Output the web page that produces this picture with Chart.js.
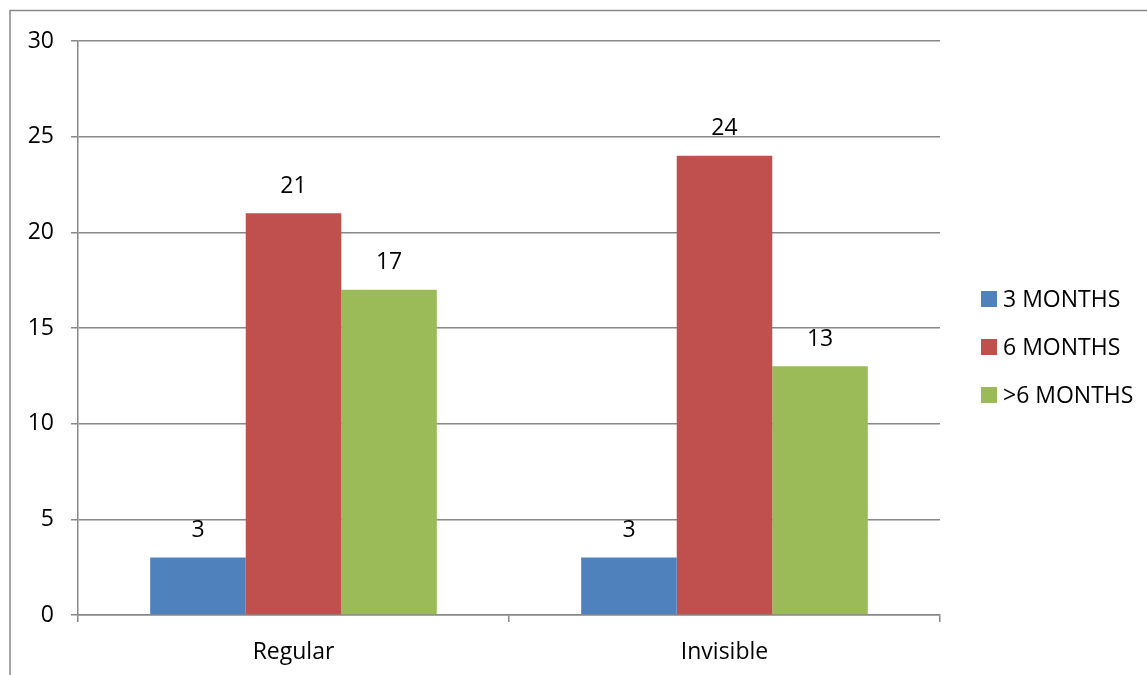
<!DOCTYPE html>
<html>
<head>
<meta charset="utf-8">
<script src="https://cdn.jsdelivr.net/npm/chart.js@4/dist/chart.umd.min.js"></script>
<style>
  html, body { margin: 0; padding: 0; background: #fff; }
  #wrap { width: 1147px; height: 675px; position: relative; }
</style>
</head>
<body>
<div id="wrap"><canvas id="c" width="1147" height="675"></canvas></div>
<script>
const categories = ['Regular', 'Invisible'];
const seriesNames = ['3 MONTHS', '6 MONTHS', '>6 MONTHS'];
const threeMonths = [3, 3];
const sixMonths = [21, 24];
const overSixMonths = [17, 13];
const seriesColors = ['#4F81BD', '#C0504D', '#9BBB59'];
const yTicks = [0, 5, 10, 15, 20, 25, 30];

const FONT = '"Open Sans", "Liberation Sans", sans-serif';
const FONT_SIZE = 23;
const GRID = '#888888';

// Outer frame of the chart object (continues past the right and bottom edges)
const framePlugin = {
  id: 'frame',
  beforeDraw(chart) {
    const ctx = chart.ctx;
    ctx.save();
    ctx.strokeStyle = GRID;
    ctx.lineWidth = 1.5;
    ctx.strokeRect(10, 10.5, 1200, 700);
    ctx.restore();
  }
};

// Value labels above each bar
const valueLabels = {
  id: 'valueLabels',
  afterDatasetsDraw(chart) {
    const ctx = chart.ctx;
    ctx.save();
    ctx.font = FONT_SIZE + 'px ' + FONT;
    ctx.fillStyle = '#000';
    ctx.textAlign = 'center';
    ctx.textBaseline = 'middle';
    chart.data.datasets.forEach((ds, i) => {
      chart.getDatasetMeta(i).data.forEach((bar, j) => {
        ctx.fillText(String(ds.data[j]), bar.x, bar.y - 27);
      });
    });
    ctx.restore();
  }
};

// Legend on the right side
const sideLegend = {
  id: 'sideLegend',
  afterDraw(chart) {
    const ctx = chart.ctx;
    ctx.save();
    ctx.font = FONT_SIZE + 'px ' + FONT;
    ctx.textAlign = 'left';
    ctx.textBaseline = 'middle';
    const startY = 299, step = 48, boxX = 981, box = 16;
    chart.data.datasets.forEach((ds, i) => {
      const cy = startY + i * step;
      ctx.fillStyle = ds.backgroundColor;
      ctx.fillRect(boxX, cy - box / 2, box, box);
      ctx.fillStyle = '#000';
      ctx.fillText(ds.label, boxX + 22, cy + 1);
    });
    ctx.restore();
  }
};

new Chart(document.getElementById('c'), {
  type: 'bar',
  data: {
    labels: categories,
    datasets: [
      { label: seriesNames[0], data: threeMonths, backgroundColor: seriesColors[0] },
      { label: seriesNames[1], data: sixMonths, backgroundColor: seriesColors[1] },
      { label: seriesNames[2], data: overSixMonths, backgroundColor: seriesColors[2] }
    ]
  },
  options: {
    responsive: false,
    animation: false,
    devicePixelRatio: 1,
    layout: { padding: { top: 41, left: 0, right: 207, bottom: 0 } },
    datasets: { bar: { categoryPercentage: 0.665, barPercentage: 1.0, borderWidth: 0 } },
    plugins: { legend: { display: false }, tooltip: { enabled: false } },
    scales: {
      x: {
        afterFit(s) { s.height = 60; },
        grid: {
          display: true, drawOnChartArea: false, drawTicks: true,
          tickLength: 7, color: GRID, lineWidth: 1.5, offset: true
        },
        border: { display: true, color: GRID, width: 1.5 },
        ticks: { color: '#000', font: { family: FONT, size: FONT_SIZE }, padding: 17 }
      },
      y: {
        min: 0, max: 30,
        afterFit(s) { s.width = 78; },
        afterBuildTicks(s) { s.ticks = yTicks.map(v => ({ value: v })); },
        grid: { color: GRID, lineWidth: 1.5, tickLength: 7, drawTicks: true },
        border: { display: true, color: GRID, width: 1.5 },
        ticks: { color: '#000', font: { family: FONT, size: FONT_SIZE }, padding: 17 }
      }
    }
  },
  plugins: [framePlugin, valueLabels, sideLegend]
});
</script>
</body>
</html>
